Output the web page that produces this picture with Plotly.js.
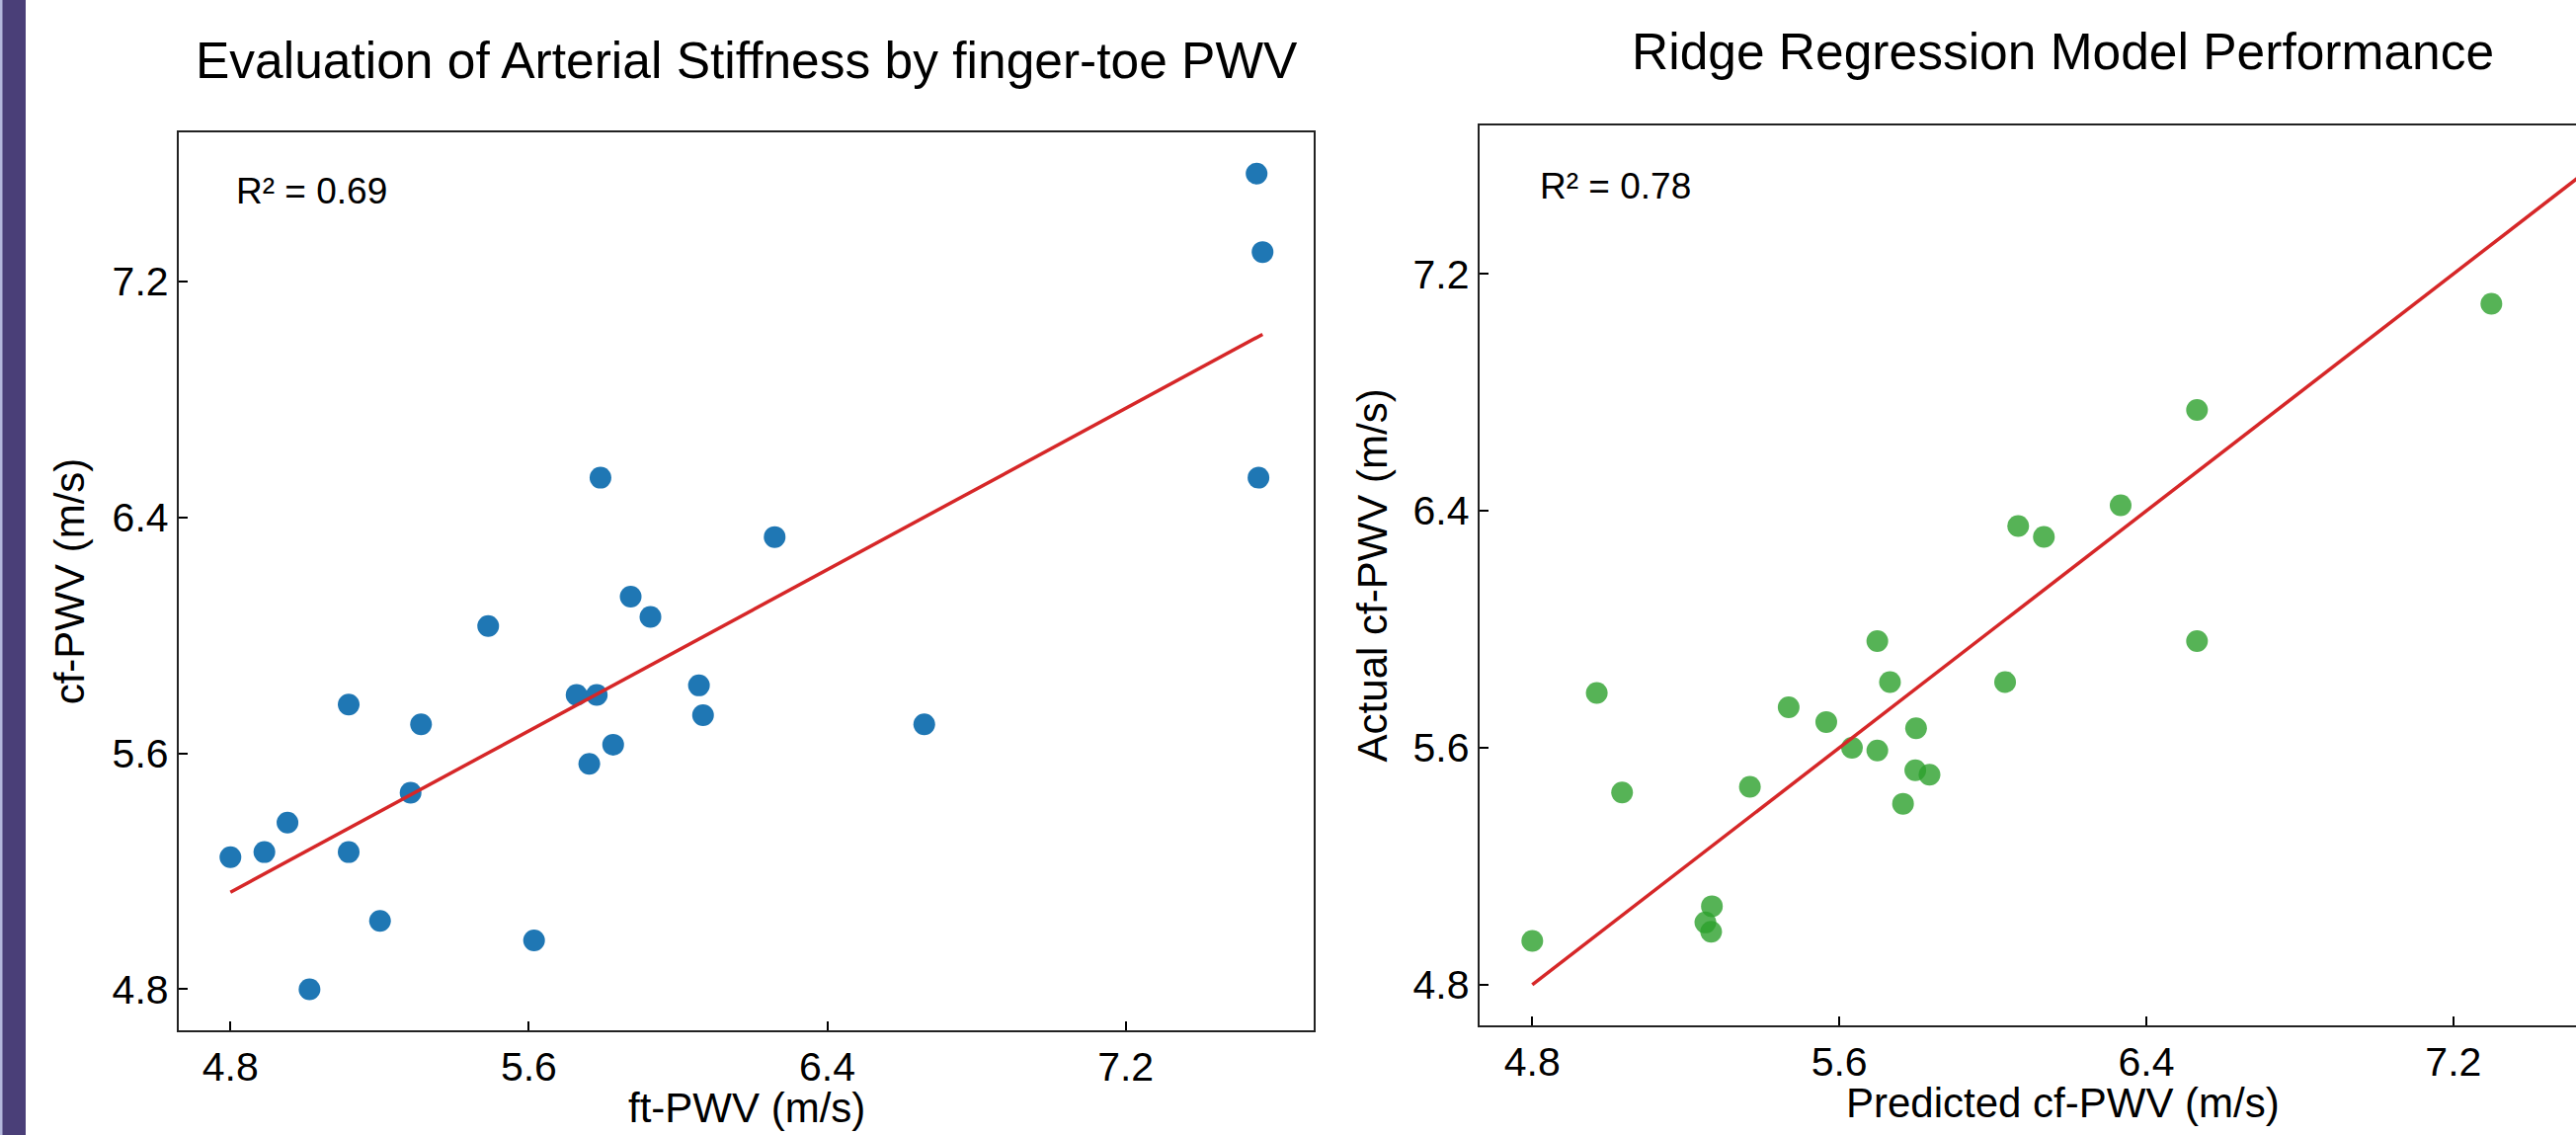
<!DOCTYPE html>
<html>
<head>
<meta charset="utf-8">
<script src="https://cdn.plot.ly/plotly-3.0.1.min.js"></script>
<style>
  html, body { margin: 0; padding: 0; background: #fff; overflow: hidden; width: 2608px; height: 1149px; }
  #chart { width: 2700px; height: 1149px; }
</style>
</head>
<body>
<div id="chart"></div>
<script>
// ---------- data ----------
const ftPWV = [5.873, 5.926, 5.491, 6.056, 5.728, 5.782, 5.117, 6.067, 5.311, 6.660,
               5.826, 5.762, 5.283, 4.953, 4.891, 4.800, 5.117, 5.201, 5.614, 5.012,
               7.551, 7.567, 7.556, 5.792, 6.259];
const cfPWV = [6.131, 6.062, 6.031, 5.830, 5.798, 5.798, 5.765, 5.729, 5.698, 5.698,
               5.629, 5.564, 5.466, 5.365, 5.265, 5.248, 5.265, 5.032, 4.966, 4.800,
               7.565, 7.299, 6.534, 6.534, 6.333];
const fitX = [4.800, 7.567];
const fitY = [5.129, 7.020];

const predictedCf = [7.299, 6.532, 6.333, 6.066, 6.133, 5.699, 6.532, 5.732, 6.032, 4.968,
                     5.468, 5.566, 5.800, 5.633, 5.699, 5.798, 5.835, 5.034, 5.367, 5.766,
                     5.268, 5.251, 5.266, 4.800];
const actualCf    = [7.099, 6.741, 6.419, 6.349, 6.312, 5.960, 5.960, 5.822, 5.822, 5.785,
                     5.737, 5.687, 5.666, 5.600, 5.591, 5.524, 5.509, 5.449, 5.468, 5.411,
                     5.065, 5.010, 4.979, 4.948];
const idealX = [4.800, 7.567];
const idealY = [4.800, 7.567];

const tickVals = [4.8, 5.6, 6.4, 7.2];
const tickText = ['4.8', '5.6', '6.4', '7.2'];

const r2Left = 'R² = 0.69';
const r2Right = 'R² = 0.78';
const titleLeft = 'Evaluation of Arterial Stiffness by finger-toe PWV';
const titleRight = 'Ridge Regression Model Performance';

// ---------- layout helpers ----------
const W = 2700, H = 1149;
const px = x => x / W;
const py = y => 1 - y / H;
const FONT = 'Liberation Sans, Arial, Helvetica, sans-serif';

function axisBase(extra) {
  return Object.assign({
    tickvals: tickVals, ticktext: tickText,
    ticks: 'inside', ticklen: 9, tickwidth: 2, tickcolor: '#000',
    showline: true, mirror: true, linewidth: 2, linecolor: '#222',
    showgrid: false, zeroline: false,
    tickfont: { family: FONT, size: 41, color: '#000' },
    fixedrange: true
  }, extra);
}

const traces = [
  { type: 'scatter', mode: 'markers', x: ftPWV, y: cfPWV, xaxis: 'x', yaxis: 'y',
    marker: { color: '#1f77b4', size: 22, line: { width: 0 } }, hoverinfo: 'skip' },
  { type: 'scatter', mode: 'lines', x: fitX, y: fitY, xaxis: 'x', yaxis: 'y',
    line: { color: '#d62728', width: 3.5 }, hoverinfo: 'skip' },
  { type: 'scatter', mode: 'markers', x: predictedCf, y: actualCf, xaxis: 'x2', yaxis: 'y2',
    marker: { color: '#2ca02c', size: 22, opacity: 0.8, line: { width: 0 } }, hoverinfo: 'skip' },
  { type: 'scatter', mode: 'lines', x: idealX, y: idealY, xaxis: 'x2', yaxis: 'y2',
    line: { color: '#d62728', width: 3.5 }, hoverinfo: 'skip' }
];

function ann(text, x, y, size, opts) {
  return Object.assign({
    text: text, xref: 'paper', yref: 'paper', x: x, y: y,
    xanchor: 'center', yanchor: 'middle', showarrow: false,
    font: { family: FONT, size: size, color: '#000' }
  }, opts || {});
}

const layout = {
  width: W, height: H,
  margin: { l: 0, r: 0, t: 0, b: 0 },
  paper_bgcolor: '#fff', plot_bgcolor: '#fff',
  showlegend: false,
  xaxis: axisBase({ domain: [px(180.8), px(1330)], range: [4.661, 7.704], anchor: 'y' }),
  yaxis: axisBase({ domain: [py(1042.7), py(133.9)], range: [4.662, 7.705], anchor: 'x' }),
  xaxis2: axisBase({ domain: [px(1497.7), px(2679.7)], range: [4.662, 7.704], anchor: 'y2' }),
  yaxis2: axisBase({ domain: [py(1038.2), py(126.5)], range: [4.662, 7.703], anchor: 'x2' }),
  annotations: [
    ann(titleLeft, px(755.9), py(60.6), 51.5),
    ann(titleRight, px(2088.2), py(52.5), 51.5),
    ann(r2Left, px(237), py(193.9), 37, { xanchor: 'left' }),
    ann(r2Right, px(1556.5), py(188.8), 37, { xanchor: 'left' }),
    ann('ft-PWV (m/s)', px(756), py(1121.5), 42),
    ann('Predicted cf-PWV (m/s)', px(2088), py(1116), 42),
    ann('cf-PWV (m/s)', px(70), py(588.3), 42, { textangle: -90 }),
    ann('Actual cf-PWV (m/s)', px(1389), py(582.4), 42, { textangle: -90 })
  ],
  shapes: [
    { type: 'rect', xref: 'paper', yref: 'paper', x0: 0, x1: px(26), y0: 0, y1: 1,
      fillcolor: '#4a3f78', line: { width: 0 }, layer: 'below' },
    { type: 'rect', xref: 'paper', yref: 'paper', x0: 0, x1: px(2.5), y0: 0, y1: 1,
      fillcolor: '#b4b8dc', line: { width: 0 }, layer: 'below' }
  ]
};

Plotly.newPlot('chart', traces, layout, { displayModeBar: false, staticPlot: true });
</script>
</body>
</html>
